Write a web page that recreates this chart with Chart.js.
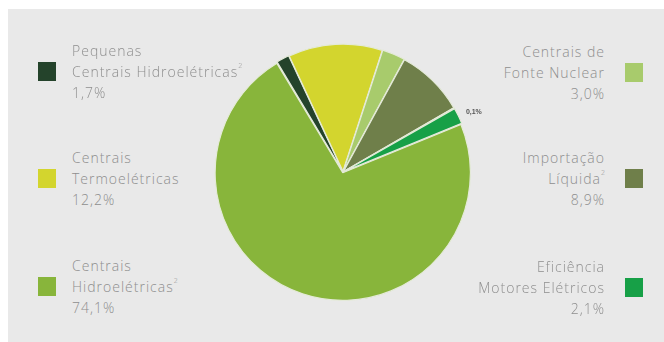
<!DOCTYPE html>
<html>
<head>
<meta charset="utf-8">
<script src="https://cdn.jsdelivr.net/npm/chart.js@4/dist/chart.umd.min.js"></script>
<style>
  html, body { margin: 0; padding: 0; }
  body { width: 664px; height: 342px; background: #fff; position: relative; overflow: hidden;
         font-family: "Open Sans", "Liberation Sans", sans-serif; }
  #panel { position: absolute; left: 8px; top: 9px; right: 0; bottom: 0; background: #e9e9e9; }
  #pieBox { position: absolute; left: 184px; top: 43px; width: 318px; height: 258px; }
  .item { position: absolute; color: #8e8e8e; font-size: 14px; line-height: 21px; font-weight: 300;
          letter-spacing: 1px; white-space: nowrap; }
  .item .sw { position: absolute; width: 18px; height: 19px; }
  .left { left: 72px; text-align: left; }
  .left .sw { left: -34px; }
  .right { right: 59px; text-align: right; }
  .right .sw { right: -38px; }
  sup { font-size: 7px; vertical-align: top; line-height: 10px; letter-spacing: 0; }
</style>
</head>
<body>
<div id="panel"></div>
<div id="pieBox"><canvas id="pie"></canvas></div>
<div id="legend"></div>
<script>
// slices, clockwise from the top-left
var labels = ['Pequenas|Centrais Hidroelétricas²', 'Centrais|Termoelétricas', 'Centrais de|Fonte Nuclear',
              'Importação|Líquida²', 'Outros', 'Eficiência|Motores Elétricos', 'Centrais|Hidroelétricas²'];
var shares = [1.7, 12.2, 3.0, 8.9, 0.1, 2.1, 74.1];
var shareText = ['1,7%', '12,2%', '3,0%', '8,9%', '0,1%', '2,1%', '74,1%'];
var colors = ['#24432b', '#d3d52e', '#a8cb6c', '#6f7f4a', '#dfe6cf', '#17a047', '#88b53b'];

// legend layout: [slice index, side, top of first line]
var legendSlots = [[0, 'left', 40], [1, 'left', 147], [6, 'left', 255],
                   [2, 'right', 41], [3, 'right', 147], [5, 'right', 256]];

var leg = document.getElementById('legend');
legendSlots.forEach(function (s) {
  var i = s[0];
  var d = document.createElement('div');
  d.className = 'item ' + s[1];
  d.style.top = s[2] + 'px';
  var lines = labels[i].split('|').map(function (t) {
    return t.replace('²', '<sup>2</sup>');
  });
  lines.push(shareText[i]);
  d.innerHTML = '<div class="sw" style="top:22px;background:' + colors[i] + '"></div>' + lines.join('<br>');
  leg.appendChild(d);
});

// small value label beside the tiny slice
var tinyLabel = {
  id: 'tinyLabel',
  afterDatasetsDraw: function (chart) {
    var arcs = chart.getDatasetMeta(0).data;
    var mid = (arcs[4].startAngle + arcs[5].endAngle) / 2;
    var r = arcs[4].outerRadius + 10;
    var ctx = chart.ctx;
    ctx.save();
    ctx.font = 'bold 7px "Liberation Sans", sans-serif';
    ctx.fillStyle = '#555';
    ctx.textAlign = 'left';
    ctx.textBaseline = 'middle';
    ctx.fillText(shareText[4], arcs[4].x + Math.cos(mid) * r, arcs[4].y + Math.sin(mid) * r);
    ctx.restore();
  }
};

new Chart(document.getElementById('pie'), {
  type: 'pie',
  data: {
    labels: labels,
    datasets: [{
      data: shares,
      backgroundColor: colors,
      borderColor: '#e4ead8',
      borderWidth: 1.2,
      offset: 3
    }]
  },
  options: {
    responsive: true,
    maintainAspectRatio: false,
    animation: false,
    rotation: -31,
    layout: { padding: { left: 30, right: 30 } },
    plugins: { legend: { display: false }, tooltip: { enabled: false } }
  },
  plugins: [tinyLabel]
});
</script>
</body>
</html>
